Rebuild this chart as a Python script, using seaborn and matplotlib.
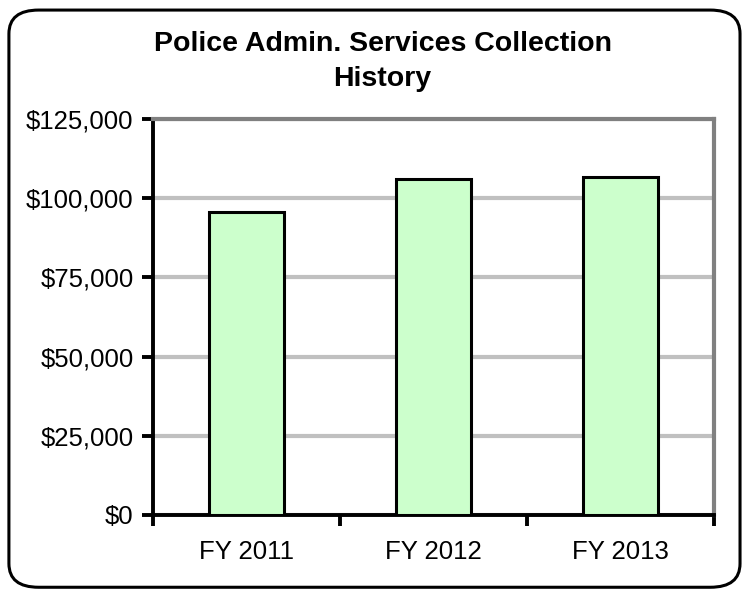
import matplotlib
matplotlib.use("Agg")
import matplotlib.pyplot as plt
import matplotlib.ticker as mticker
from matplotlib.patches import FancyBboxPatch
import seaborn as sns
import pandas as pd

# Collection totals by fiscal year
years = ["FY 2011", "FY 2012", "FY 2013"]
collections = [95600, 106000, 106600]
y_ticks = [0, 25000, 50000, 75000, 100000, 125000]

df = pd.DataFrame({"year": years, "amount": collections})

sns.set_theme(style="white")
plt.rcParams["font.family"] = ["Liberation Sans", "DejaVu Sans"]

fig = plt.figure(figsize=(7.43, 5.92), dpi=100)
fig.patch.set_facecolor("white")

# Rounded chart-area border
frame = FancyBboxPatch((0.012, 0.008), 0.984, 0.975,
                       boxstyle="round,pad=0,rounding_size=0.04",
                       transform=fig.transFigure, facecolor="none",
                       edgecolor="black", linewidth=2.2, zorder=-1)
fig.patches.append(frame)

ax = fig.add_axes([153 / 743, 1 - 515 / 592, (714 - 153) / 743, (515 - 119) / 592])
ax.set_facecolor("white")

sns.barplot(data=df, x="year", y="amount", ax=ax, color="#ccffcc",
            saturation=1, width=0.4, edgecolor="black", linewidth=2.2, zorder=3)

ax.set_ylim(0, 125000)
ax.set_xlim(-0.5, 2.5)
ax.set_yticks(y_ticks)
ax.yaxis.set_major_formatter(mticker.FuncFormatter(lambda v, p: f"${v:,.0f}"))
ax.set_xlabel("")
ax.set_ylabel("")

# Horizontal gridlines
ax.yaxis.grid(True, color="#c0c0c0", linewidth=3)
ax.set_axisbelow(True)

for side in ["top", "right"]:
    ax.spines[side].set_color("#808080")
    ax.spines[side].set_linewidth(3)
for side in ["left", "bottom"]:
    ax.spines[side].set_color("black")
    ax.spines[side].set_linewidth(2.8)

ax.tick_params(axis="y", which="major", left=True, length=8, width=2.8,
               color="black", labelsize=18.5, labelcolor="black", pad=6,
               direction="out")
ax.tick_params(axis="x", which="major", bottom=False, labelsize=18.5,
               labelcolor="black", pad=12)
# Category boundary ticks on the x axis
ax.set_xticks([-0.5, 0.5, 1.5, 2.5], minor=True)
ax.tick_params(axis="x", which="minor", bottom=True, length=8, width=2.8,
               color="black", direction="out")

fig.text(0.515, 0.896, "Police Admin. Services Collection\nHistory",
         ha="center", va="center", fontsize=20.5, fontweight="bold",
         color="black", linespacing=1.45)

fig.savefig("out.png", dpi=100, facecolor="white")
